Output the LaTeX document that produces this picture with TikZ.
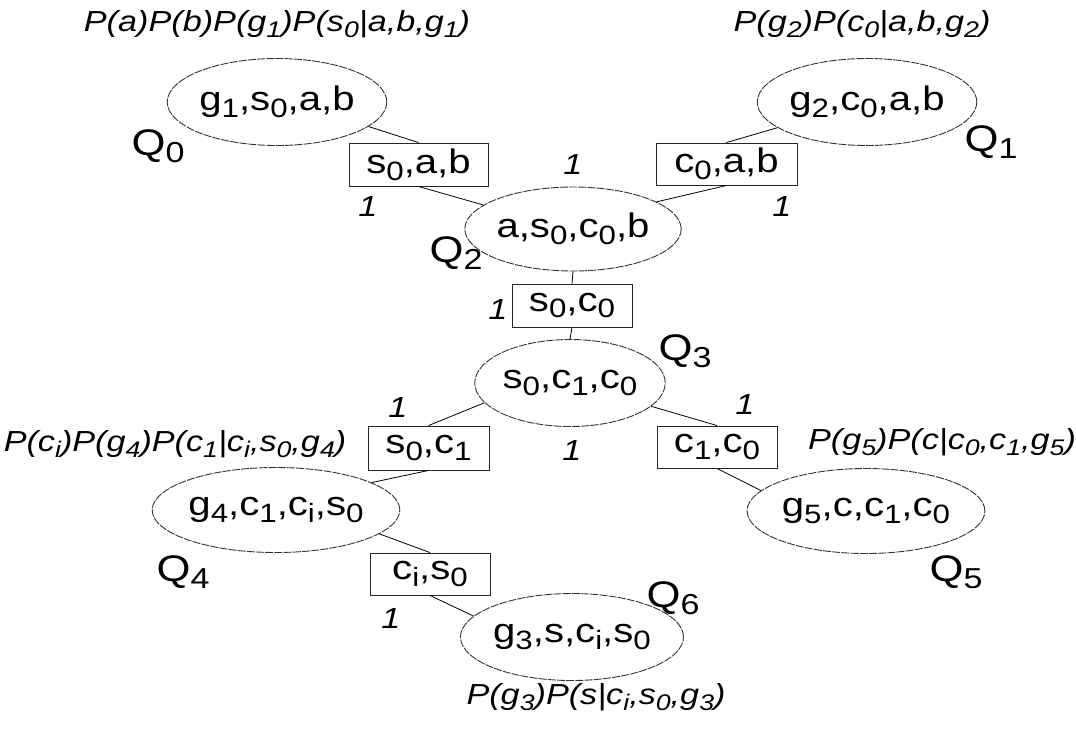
\documentclass[tikz,border=0pt]{standalone}
\usepackage{fontspec}
\usepackage{graphicx}
\setmainfont{Liberation Sans}[FakeStretch=1.18]
\usetikzlibrary{shapes.geometric}
\newcommand\lo[1]{\raisebox{-0.2em}{\scalebox{0.78}{#1}}}
\begin{document}
\begin{tikzpicture}[x=1pt,y=-1pt,
  clique/.style 2 args={ellipse,draw=black!80,line width=0.9pt,dash pattern=on 8pt off 1.2pt,
    minimum width=#1,minimum height=#2,inner sep=0pt,
    font=\fontsize{34}{38}\selectfont},
  sepbox/.style 2 args={rectangle,draw=black!85,line width=0.9pt,minimum height=#2,
    minimum width=#1,inner sep=0pt,font=\fontsize{34}{38}\selectfont},
  qlab/.style={font=\fontsize{37}{42}\selectfont,inner sep=0pt},
  one/.style={font=\fontsize{29}{32}\selectfont\itshape,inner sep=0pt},
  cpt/.style={font=\fontsize{29}{32}\selectfont\itshape,inner sep=0pt},
  link/.style={line width=0.8pt,black}]
\useasboundingbox (0,0) rectangle (1076,729);
% cliques
\node[clique={199pt}{87pt}] (q0) at (277,102) {g\lo{1},s\lo{0},a,b};
\node[clique={199pt}{87pt}] (q1) at (867,102) {g\lo{2},c\lo{0},a,b};
\node[clique={197pt}{84pt}] (q2) at (573,229) {a,s\lo{0},c\lo{0},b};
\node[clique={190pt}{87pt}] (q3) at (570,383) {s\lo{0},c\lo{1},c\lo{0}};
\node[clique={211pt}{85pt}] (q4) at (276,510) {g\lo{4},c\lo{1},c\lo{i},s\lo{0}};
\node[clique={211pt}{85pt}] (q5) at (866,511) {g\lo{5},c,c\lo{1},c\lo{0}};
\node[clique={211pt}{87pt}] (q6) at (572,637) {g\lo{3},s,c\lo{i},s\lo{0}};
% separators
\node[sepbox={139pt}{43pt}] (s02) at (418.5,164.5) {s\lo{0},a,b};
\node[sepbox={141pt}{42pt}] (s12) at (726.5,164) {c\lo{0},a,b};
\node[sepbox={120pt}{43pt}] (s23) at (572,305.5) {s\lo{0},c\lo{0}};
\node[sepbox={121pt}{44pt}] (s34) at (428.5,448) {s\lo{0},c\lo{1}};
\node[sepbox={120pt}{42pt}] (s35) at (717,447) {c\lo{1},c\lo{0}};
\node[sepbox={120pt}{42pt}] (s46) at (430,574) {c\lo{i},s\lo{0}};
% Q labels
\node[qlab] (l0) at (158,146) {Q\lo{0}};
\node[qlab] (l1) at (991,142) {Q\lo{1}};
\node[qlab] (l2) at (456,253) {Q\lo{2}};
\node[qlab] (l3) at (685,351) {Q\lo{3}};
\node[qlab] (l4) at (183,572) {Q\lo{4}};
\node[qlab] (l5) at (956,572) {Q\lo{5}};
\node[qlab] (l6) at (673,598) {Q\lo{6}};
% probability tables
\node[cpt] (p0) at (277,24) {P(a)P(b)P(g\lo{1})P(s\lo{0}|a,b,g\lo{1})};
\node[cpt] (p1) at (862,24) {P(g\lo{2})P(c\lo{0}|a,b,g\lo{2})};
\node[cpt] (p4) at (175,444) {P(c\lo{i})P(g\lo{4})P(c\lo{1}|c\lo{i},s\lo{0},g\lo{4})};
\node[cpt] (p5) at (942,442) {P(g\lo{5})P(c|c\lo{0},c\lo{1},g\lo{5})};
\node[cpt] (p6) at (596,697) {P(g\lo{3})P(s|c\lo{i},s\lo{0},g\lo{3})};
% weights
\node[one] (w0) at (368,207) {1};
\node[one] (w1) at (573,165) {1};
\node[one] (w2) at (782,207) {1};
\node[one] (w3) at (498,310) {1};
\node[one] (w4) at (398,408) {1};
\node[one] (w5) at (572,451) {1};
\node[one] (w6) at (745,405) {1};
\node[one] (w7) at (391,619) {1};
% links
\draw[link] (q0.-15) -- (s02.north);
\draw[link] (s02.south) -- (q2.165);
\draw[link] (q1.-164) -- (s12.north);
\draw[link] (s12.south) -- (q2.18);
\draw[link] (q2.south) -- (s23.north);
\draw[link] (s23.south) -- (q3.north);
\draw[link] (q3.193) -- (s34.north);
\draw[link] (s34.south) -- (q4.16);
\draw[link] (q4.-13) -- (s46.north);
\draw[link] (s46.south) -- (q6.168);
\draw[link] (q3.-16) -- (s35.north);
\draw[link] (s35.south) -- (q5.169);
\end{tikzpicture}
\end{document}
